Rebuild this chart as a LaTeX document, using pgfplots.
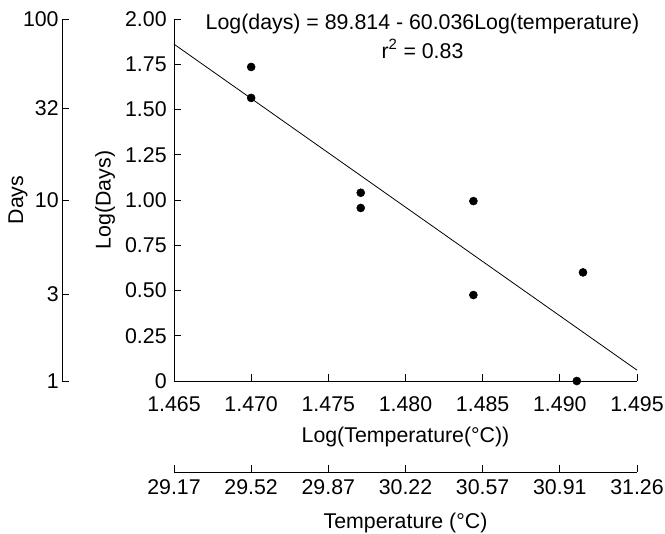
\documentclass[border=0pt]{standalone}
\usepackage{fontspec}
\setmainfont{Liberation Sans}
\usepackage{pgfplots}
\pgfplotsset{compat=1.18}

\begin{document}
\begin{tikzpicture}
\pgfplotsset{
  every axis/.append style={
    scale only axis,
    font=\fontsize{16}{19}\selectfont,
    tick align=inside,
    major tick length=5pt,
    /pgf/number format/assume math mode=true,
    axis line style={line width=0.6pt},
    every tick/.style={line width=0.6pt, black},
  },
}
% page size: 665 x 533 px at 0.75pt per px, main axis corner at the origin
\useasboundingbox (-130.5pt,-114pt) rectangle (368.25pt,285.75pt);

% main plot: log(days) against log(temperature)
\begin{axis}[
  name=main,
  at={(0,0)}, anchor=south west,
  width=347.25pt, height=271.5pt,
  xmin=1.465, xmax=1.495, ymin=0, ymax=2,
  axis x line*=bottom, axis y line*=left,
  xtick={1.465,1.470,1.475,1.480,1.485,1.490,1.495},
  xticklabels={1.465,1.470,1.475,1.480,1.485,1.490,1.495},
  ytick={0,0.25,0.5,0.75,1,1.25,1.5,1.75,2},
  yticklabels={0,0.25,0.50,0.75,1.00,1.25,1.50,1.75,2.00},
  xticklabel style={yshift=-8.5pt},
  yticklabel style={xshift=-2pt},
  xlabel={Log(Temperature(°C))},
  ylabel={Log(Days)},
  xlabel style={at={(axis description cs:0.5,-0.1547)}, anchor=center},
  ylabel style={at={(axis description cs:-0.149,0.5)}, anchor=center},
  clip=false,
]
\addplot[only marks, mark=*, mark size=3pt, black, mark options={fill=black}] coordinates {
  (1.4700,1.735) (1.4700,1.564)
  (1.4771,1.040) (1.4771,0.956)
  (1.4844,0.994) (1.4844,0.475)
  (1.4915,0.600) (1.4911,0.000)
};
\addplot[black, line width=0.6pt] coordinates {(1.465,1.861) (1.495,0.060)};
\node at (axis cs:1.4811,1.972) {Log(days) = 89.814 - 60.036Log(temperature)};
\node at (axis cs:1.4811,1.834) {r\textsuperscript{2} = 0.83};
\end{axis}

% secondary axis: days on a log scale
\begin{axis}[
  at={(-84pt,0)}, anchor=south west,
  width=1pt, height=271.5pt,
  axis y line*=left, axis x line=none,
  xmin=0, xmax=1,
  ymode=log, ymin=1, ymax=100,
  ytick={1,3,10,32,100},
  yticklabels={1,3,10,32,100},
  yticklabel style={xshift=1pt},
  ylabel={Days},
  ylabel style={at={(axis description cs:-33,0.5)}, anchor=center},
]
\addplot[draw=none] coordinates {(0,1) (1,100)};
\end{axis}

% secondary axis: temperature
\begin{axis}[
  at={(0,-68.25pt)}, anchor=south west,
  width=347.25pt, height=1pt,
  axis x line*=bottom, axis y line=none,
  xmin=1.465, xmax=1.495, ymin=0, ymax=1,
  xtick={1.465,1.470,1.475,1.480,1.485,1.490,1.495},
  xticklabels={29.17,29.52,29.87,30.22,30.57,30.91,31.26},
  xticklabel style={yshift=-2.5pt},
  xlabel={Temperature (°C)},
  xlabel style={at={(axis description cs:0.5,0)}, yshift=-38pt, anchor=center},
]
\addplot[draw=none] coordinates {(1.465,0) (1.495,1)};
\end{axis}
\end{tikzpicture}
\end{document}
